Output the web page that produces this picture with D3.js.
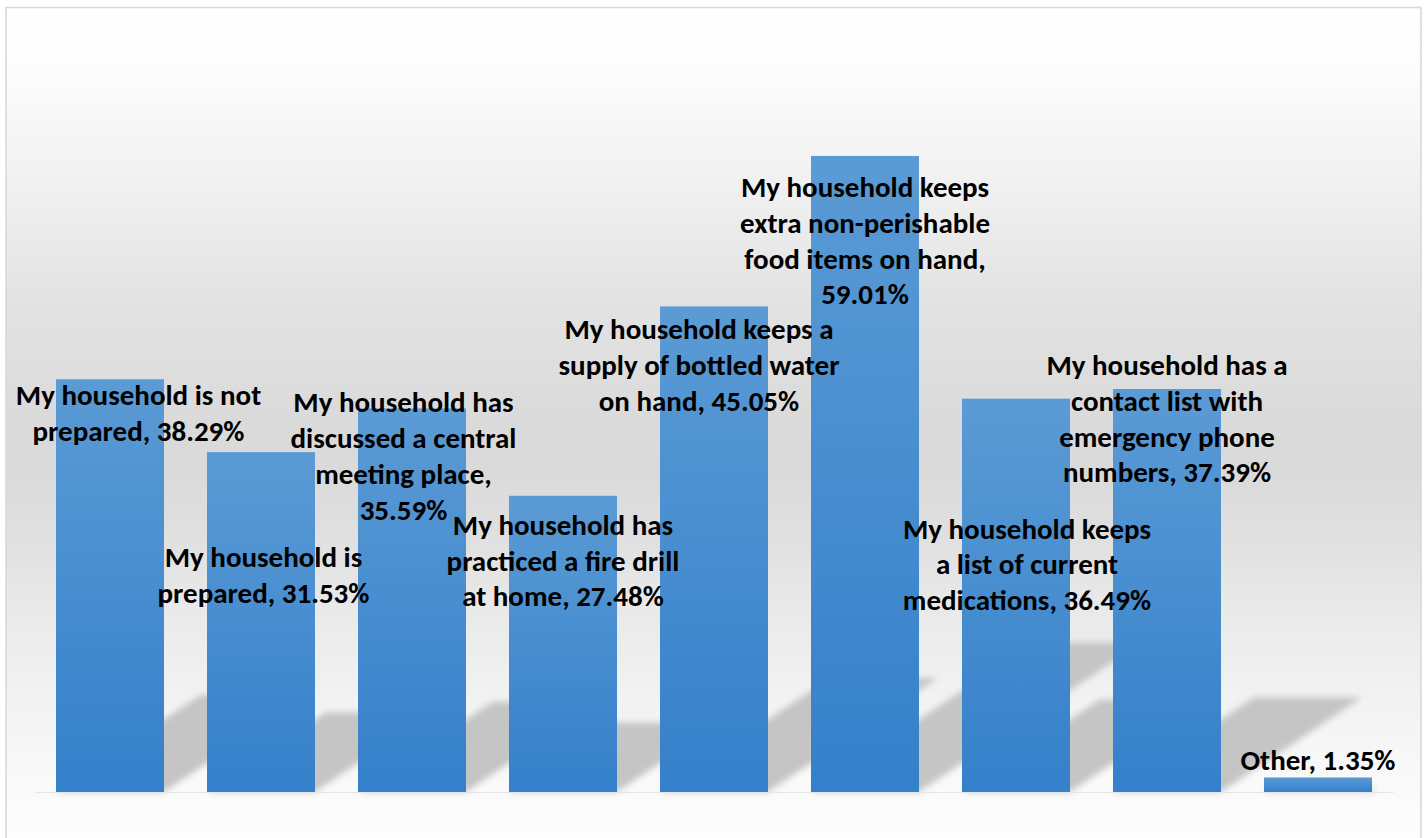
<!DOCTYPE html>
<html>
<head>
<meta charset="utf-8">
<script src="https://cdn.jsdelivr.net/npm/d3@7"></script>
<style>
  html, body { margin: 0; padding: 0; background: #ffffff; }
  svg { display: block; }
</style>
</head>
<body>
<script>
// Household emergency preparedness survey responses (% of respondents)
const categories = [
  "My household is not prepared",
  "My household is prepared",
  "My household has discussed a central meeting place",
  "My household has practiced a fire drill at home",
  "My household keeps a supply of bottled water on hand",
  "My household keeps extra non-perishable food items on hand",
  "My household keeps a list of current medications",
  "My household has a contact list with emergency phone numbers",
  "Other"
];
const values = [38.29, 31.53, 35.59, 27.48, 45.05, 59.01, 36.49, 37.39, 1.35];

// Number of words on each line of a wrapped data label
const labelWrap = [
  [4, 2],
  [3, 2],
  [3, 3, 2, 1],
  [3, 4, 3],
  [4, 4, 3],
  [3, 2, 4, 1],
  [3, 4, 2],
  [4, 3, 2, 2],
  [2]
];
// Label placement relative to the bar: [dx from bar centre, first baseline below bar top]
const labelOffset = [
  [28.5, 26], [2.5, 115], [-8.5, 4], [0, 39], [-15, 32.5],
  [0, 41], [11, 140], [0, -14], [0, -7.5]
];

const W = 1427, H = 838;
const baseY = 792;

const svg = d3.select("body").append("svg")
  .attr("width", W).attr("height", H);

const defs = svg.append("defs");

// chart-area background: white at the top, grey through the middle, pale at the floor
const bg = defs.append("linearGradient")
  .attr("id", "bgGrad").attr("gradientUnits", "userSpaceOnUse")
  .attr("x1", 0).attr("y1", 7).attr("x2", 0).attr("y2", 838);
[
  [0, "#ffffff"], [0.07, "#fdfdfd"], [0.16, "#f5f5f5"], [0.22, "#f0f0f0"],
  [0.35, "#e3e3e3"], [0.5, "#dadada"], [0.56, "#dadada"], [0.65, "#e1e1e1"],
  [0.71, "#e8e8e8"], [0.83, "#f2f2f2"], [0.94, "#fafafa"], [1, "#fdfdfd"]
].forEach(([o, c]) => bg.append("stop").attr("offset", o).attr("stop-color", c));

const barGrad = defs.append("linearGradient")
  .attr("id", "barGrad").attr("x1", 0).attr("y1", 0).attr("x2", 0).attr("y2", 1);
barGrad.append("stop").attr("offset", 0).attr("stop-color", "#5b9bd5");
barGrad.append("stop").attr("offset", 1).attr("stop-color", "#3480ca");

defs.append("filter").attr("id", "shadowBlur")
  .attr("x", "-20%").attr("y", "-20%").attr("width", "140%").attr("height", "140%")
  .append("feGaussianBlur").attr("stdDeviation", 3);

// background + frame
svg.append("rect")
  .attr("x", 6).attr("y", 7.5).attr("width", 1415).attr("height", 900)
  .attr("fill", "url(#bgGrad)")
  .attr("stroke", "#d9d9d9").attr("stroke-width", 1.6);

const x = d3.scaleBand()
  .domain(categories)
  .range([34.5, 1393.5])
  .paddingInner(0.2848)
  .paddingOuter(0.1424);

const y = d3.scaleLinear().domain([0, 70]).range([baseY, 37.5]);

const data = categories.map((c, i) => ({ cat: c, val: values[i], i }));

// perspective shadows cast up and to the right of each bar
const skewX = 0.35, skewY = 0.235;
svg.append("g").attr("filter", "url(#shadowBlur)")
  .selectAll("path").data(data).join("path")
  .attr("fill", "#c5c5c5")
  .attr("d", d => {
    const x0 = x(d.cat), x1 = x0 + x.bandwidth();
    const h = baseY - y(d.val);
    const dx = h * skewX, ty = baseY - h * skewY;
    return `M${x0},${baseY}L${x1},${baseY}L${x1 + dx},${ty}L${x0 + dx},${ty}Z`;
  });

// horizontal axis line
svg.append("line")
  .attr("x1", 34.5).attr("x2", 1393.5)
  .attr("y1", baseY + 0.5).attr("y2", baseY + 0.5)
  .attr("stroke", "#e6e6e6").attr("stroke-width", 1);

// bars
svg.append("g").selectAll("rect").data(data).join("rect")
  .attr("x", d => x(d.cat))
  .attr("y", d => y(d.val))
  .attr("width", x.bandwidth())
  .attr("height", d => baseY - y(d.val))
  .attr("fill", "url(#barGrad)");

// data labels: "category, value%"
const lineH = 35.8;
const labels = svg.append("g")
  .attr("font-family", "Carlito, Calibri, Lato, sans-serif")
  .attr("font-weight", "bold")
  .attr("font-size", 29)
  .attr("fill", "#000000")
  .attr("text-anchor", "middle");

data.forEach(d => {
  const words = `${d.cat}, ${d.val.toFixed(2)}%`.split(" ");
  const lines = [];
  let k = 0;
  labelWrap[d.i].forEach(n => { lines.push(words.slice(k, k + n).join(" ")); k += n; });
  const cx = x(d.cat) + x.bandwidth() / 2 + labelOffset[d.i][0];
  const y0 = y(d.val) + labelOffset[d.i][1];
  const t = labels.append("text").attr("x", cx).attr("y", y0);
  lines.forEach((ln, j) => {
    t.append("tspan").attr("x", cx).attr("y", y0 + j * lineH).text(ln);
  });
});
</script>
</body>
</html>
